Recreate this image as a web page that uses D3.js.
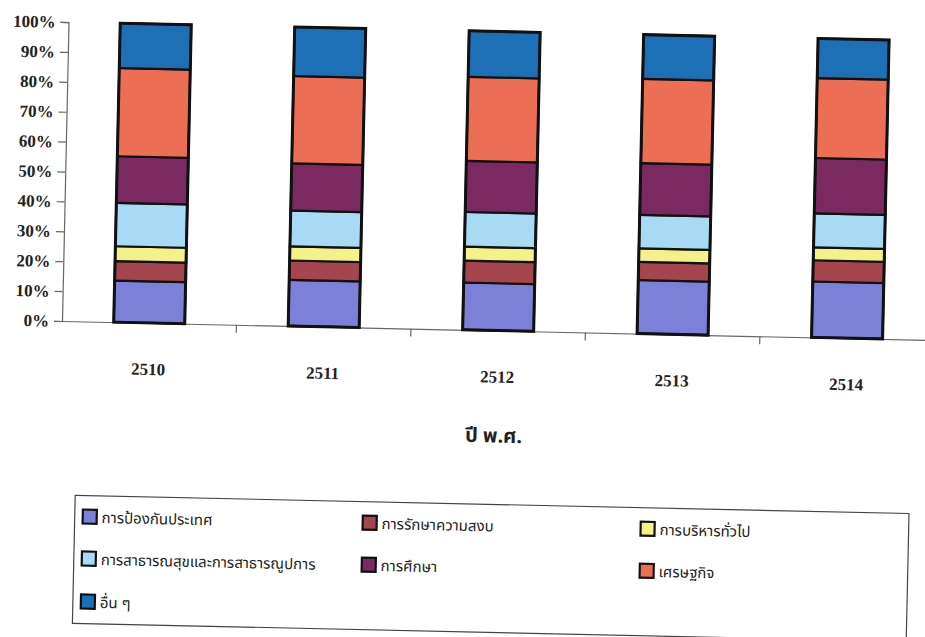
<!DOCTYPE html>
<html>
<head>
<meta charset="utf-8">
<script src="https://cdn.jsdelivr.net/npm/d3@7"></script>
<style>
html,body{margin:0;padding:0;background:#fff;}
svg{display:block;}
</style>
</head>
<body>
<svg id="chart" width="925" height="637"></svg>
<script>
const years = ["2510","2511","2512","2513","2514"];
const seriesNames = ["การป้องกันประเทศ","การรักษาความสงบ","การบริหารทั่วไป","การสาธารณสุขและการสาธารณูปการ","การศึกษา","เศรษฐกิจ","อื่น ๆ"];
const defense   = [13.9, 15.4, 15.8, 17.9, 18.7];
const peace     = [6.5, 6.5, 7.3, 6.1, 7.1];
const admin     = [5.0, 4.7, 4.7, 4.5, 4.3];
const health    = [14.5, 12.0, 11.6, 11.2, 11.4];
const education = [15.6, 15.8, 17.1, 17.3, 18.5];
const economy   = [29.5, 29.2, 28.1, 28.2, 26.7];
const others    = [15.0, 16.4, 15.4, 14.8, 13.3];
const yTicks = [0,10,20,30,40,50,60,70,80,90,100];
const colors = ["#7c80d6","#a5464f","#f4f08a","#a9daf3","#7a2a60","#ec6e55","#1d70b6"];

const seriesValues = [defense, peace, admin, health, education, economy, others];
const rows = years.map((y,i)=>{
  const r = {year:y};
  seriesNames.forEach((n,k)=>{ r[n] = seriesValues[k][i]; });
  return r;
});
const stack = d3.stack().keys(seriesNames).offset(d3.stackOffsetExpand)(rows);

const svg = d3.select("#chart");
const g = svg.append("g").attr("transform","rotate(1.25,62,321)");

const x = d3.scaleBand().domain(years).range([62, 934.5]).paddingInner(0.593).paddingOuter(0.2965);
const y = d3.scaleLinear().domain([0,1]).range([321, 22]);

// y axis
const yAxis = g.append("g").attr("transform","translate(62,0)")
  .call(d3.axisLeft(y).tickValues(yTicks.map(v=>v/100)).tickSize(8).tickPadding(5).tickFormat(d=>Math.round(d*100)+"%"));
yAxis.select(".domain").attr("stroke","#666").attr("stroke-width",1.2);
yAxis.selectAll(".tick line").attr("stroke","#666").attr("stroke-width",1.2);
yAxis.selectAll(".tick text").attr("font-family","'Liberation Serif','Times New Roman',serif")
  .attr("font-weight","bold").attr("font-size","17px").attr("fill","#222");

// x axis
const xAxis = g.append("g").attr("transform","translate(0,321)")
  .call(d3.axisBottom(x).tickSize(0).tickPadding(40));
xAxis.select(".domain").attr("stroke","#666").attr("stroke-width",1.2);
xAxis.selectAll(".tick text").attr("font-family","'Liberation Serif','Times New Roman',serif")
  .attr("font-weight","bold").attr("font-size","17px").attr("fill","#222");
// category boundary ticks
g.append("g").selectAll("line").data(years.slice(1)).join("line")
  .attr("x1",d=>x(d)-x.step()*x.paddingInner()/2).attr("x2",d=>x(d)-x.step()*x.paddingInner()/2)
  .attr("y1",321).attr("y2",329).attr("stroke","#666").attr("stroke-width",1.2);

// bars
const layers = g.append("g").selectAll("g").data(stack).join("g")
  .attr("fill",(d,i)=>colors[i]);
layers.selectAll("rect").data(d=>d).join("rect")
  .attr("x",d=>x(d.data.year))
  .attr("y",d=>y(d[1]))
  .attr("width",x.bandwidth())
  .attr("height",d=>y(d[0])-y(d[1]))
  .attr("stroke","#111").attr("stroke-width",2.2);
// outer bar outline
g.append("g").selectAll("rect").data(years).join("rect")
  .attr("x",d=>x(d)).attr("y",y(1)).attr("width",x.bandwidth()).attr("height",y(0)-y(1))
  .attr("fill","none").attr("stroke","#111").attr("stroke-width",3);

// axis title
g.append("text").attr("x",496).attr("y",433).attr("text-anchor","middle")
  .attr("font-family","'Noto Sans Thai','Noto Sans',sans-serif").attr("font-weight","bold")
  .attr("font-size","20px").attr("fill","#222").text("ปี พ.ศ.");

// legend
const lg = g.append("g");
lg.append("rect").attr("x",79).attr("y",495).attr("width",834).attr("height",128)
  .attr("fill","none").attr("stroke","#444").attr("stroke-width",1.2);
const colX = [87, 367, 645];
const rowY = [516, 558, 601];
const items = lg.selectAll("g.item").data(seriesNames).join("g").attr("class","item")
  .attr("transform",(d,i)=>`translate(${colX[i%3]},${rowY[Math.floor(i/3)]})`);
items.append("rect").attr("x",0).attr("y",-7).attr("width",14).attr("height",14)
  .attr("fill",(d,i)=>colors[i]).attr("stroke","#111").attr("stroke-width",2.2);
items.append("text").attr("x",19).attr("y",6)
  .attr("font-family","'Noto Sans Thai','Noto Sans',sans-serif")
  .attr("font-size","15px").attr("fill","#222").text(d=>d);
</script>
</body>
</html>
